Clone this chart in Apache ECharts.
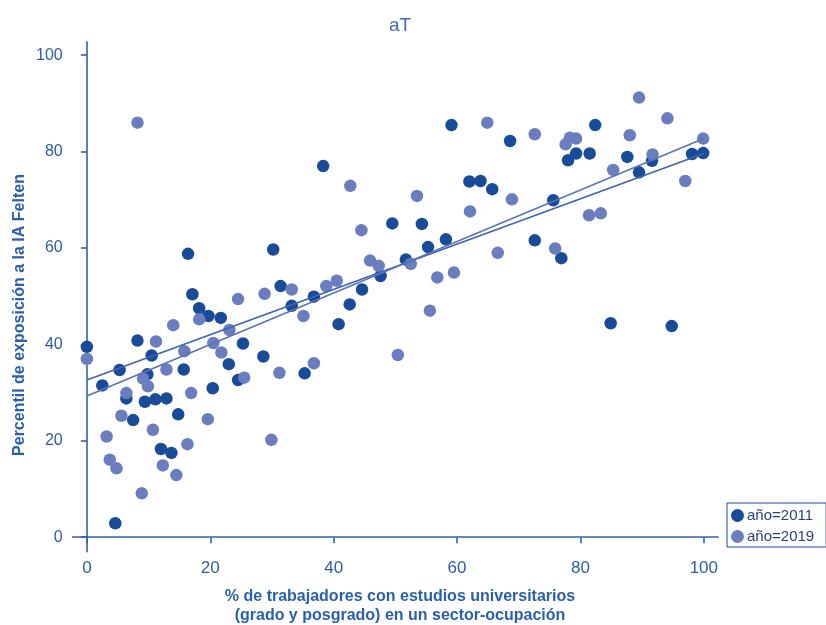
<!DOCTYPE html>
<html>
<head>
<meta charset="utf-8">
<script src="https://cdn.jsdelivr.net/npm/echarts@6/dist/echarts.min.js"></script>
<style>html,body{margin:0;padding:0;background:#fff}#c{width:826px;height:625px}</style>
</head>
<body>
<div id="c"></div>
<script>
const tickValues = [0, 20, 40, 60, 80, 100];
const seriesNames = ['año=2011', 'año=2019'];
const points2011 = [[0,39.5],[2.5,31.5],[4.6,2.9],[5.3,34.7],[6.4,28.8],[7.5,24.3],[8.2,40.8],[9.4,28.1],[9.8,33.8],[10.5,37.7],[11.1,28.6],[12.0,18.3],[12.9,28.8],[13.7,17.5],[14.8,25.5],[15.7,34.8],[16.4,58.8],[17.1,50.4],[18.2,47.5],[19.7,45.9],[20.4,30.9],[21.7,45.5],[23.0,35.9],[24.5,32.6],[25.3,40.2],[28.6,37.5],[30.2,59.7],[31.4,52.1],[33.2,48.0],[35.3,34.0],[36.8,49.9],[38.3,77.0],[40.8,44.2],[42.6,48.3],[44.6,51.4],[47.6,54.2],[49.5,65.1],[51.7,57.6],[54.3,65.0],[55.3,60.2],[58.2,61.8],[59.1,85.5],[62.0,73.8],[63.8,73.9],[65.7,72.2],[68.6,82.2],[72.6,61.6],[75.6,69.9],[76.9,57.9],[78.0,78.2],[79.3,79.6],[81.5,79.6],[82.4,85.5],[84.9,44.4],[87.6,78.9],[89.5,75.7],[91.6,78.1],[94.8,43.8],[98.1,79.5],[99.9,79.7]];
const points2019 = [[0,37.0],[3.2,20.9],[3.7,16.1],[4.8,14.3],[5.6,25.2],[6.4,29.9],[8.2,86.0],[8.9,9.1],[9.1,32.9],[9.9,31.3],[10.7,22.3],[11.2,40.6],[12.3,14.9],[12.9,34.8],[14.0,44.0],[14.5,12.9],[15.8,38.6],[16.3,19.3],[16.9,29.9],[18.2,45.2],[19.6,24.5],[20.5,40.3],[21.8,38.3],[23.1,43.0],[24.5,49.4],[25.5,33.1],[28.8,50.5],[29.9,20.2],[31.2,34.1],[33.2,51.4],[35.1,45.9],[36.8,36.1],[38.8,52.1],[40.5,53.2],[42.7,72.9],[44.5,63.7],[45.9,57.4],[47.3,56.3],[50.4,37.8],[52.5,56.7],[53.5,70.8],[55.6,47.0],[56.8,53.9],[59.5,54.9],[62.1,67.6],[64.9,86.0],[66.6,59.0],[68.9,70.1],[72.6,83.6],[75.9,59.9],[77.6,81.5],[78.3,82.9],[79.3,82.7],[81.4,66.8],[83.3,67.2],[85.3,76.2],[88.0,83.4],[89.5,91.2],[91.7,79.4],[94.1,86.9],[97.0,73.9],[99.9,82.7]];
const fit2011 = [[0,32.6],[100,79.6]];
const fit2019 = [[0,29.3],[100,82.7]];

const DARK = '#184c98';
const LIGHT = '#6a7ebf';
const AXIS = '#3261ad';
const TXT = '#2d5ca8';

const chart = echarts.init(document.getElementById('c'), null, {renderer: 'canvas'});
chart.setOption({
  animation: false,
  backgroundColor: '#fff',
  title: {
    text: 'aT', left: 395, top: 11, textAlign: 'center',
    textStyle: {color: '#3f6cb6', fontSize: 19, fontWeight: 'normal', fontFamily: 'Liberation Sans'}
  },
  legend: {
    orient: 'vertical', left: 727, top: 503,
    data: seriesNames,
    icon: 'circle', itemWidth: 13, itemHeight: 13, itemGap: 6,
    padding: [5, 12, 3, 4],
    borderColor: '#1f4f9c', borderWidth: 1,
    textStyle: {color: '#26437f', fontSize: 15, fontFamily: 'Liberation Sans', padding: [0,0,0,-2]}
  },
  grid: {left: 72.7, right: 108, top: 41.7, bottom: 73.3, containLabel: false},
  xAxis: {
    type: 'value', min: -2.3, max: 102.3,
    axisLine: {show: true, lineStyle: {color: AXIS, width: 1.6}},
    axisTick: {show: true, customValues: tickValues, length: 6, lineStyle: {color: AXIS, width: 1.6}},
    axisLabel: {customValues: tickValues, color: TXT, fontSize: 17, margin: 8, fontFamily: 'Liberation Sans'},
    splitLine: {show: false}
  },
  yAxis: {
    type: 'value', min: -3, max: 102.8,
    axisLine: {show: true, lineStyle: {color: AXIS, width: 1.6}},
    axisTick: {show: true, customValues: tickValues, length: 6, lineStyle: {color: AXIS, width: 1.6}},
    axisLabel: {customValues: tickValues, color: TXT, fontSize: 16, margin: 10, fontFamily: 'Liberation Sans'},
    splitLine: {show: false}
  },
  graphic: [
    {type: 'text', x: 400, y: 597, style: {text: '% de trabajadores con estudios universitarios', fill: '#2a5fab', font: 'bold 16px "Liberation Sans"', textAlign: 'center', textVerticalAlign: 'middle'}},
    {type: 'text', x: 400, y: 616, style: {text: '(grado y posgrado) en un sector-ocupación', fill: '#2a5fab', font: 'bold 16px "Liberation Sans"', textAlign: 'center', textVerticalAlign: 'middle'}},
    {type: 'text', x: 20, y: 315, rotation: Math.PI / 2, style: {text: 'Percentil de exposición a la IA Felten', fill: '#2a5fab', font: 'bold 16px "Liberation Sans"', textAlign: 'center', textVerticalAlign: 'middle'}}
  ],
  series: [
    {name: seriesNames[0], type: 'scatter', data: points2011, symbolSize: 12.5, itemStyle: {color: DARK, opacity: 1}, z: 3},
    {name: seriesNames[1], type: 'scatter', data: points2019, symbolSize: 12.5, itemStyle: {color: LIGHT, opacity: 1}, z: 3},
    {name: 'fit2011', type: 'line', data: fit2011, symbol: 'none', lineStyle: {color: '#3f63ad', width: 1.6}, z: 4, silent: true},
    {name: 'fit2019', type: 'line', data: fit2019, symbol: 'none', lineStyle: {color: '#5a74b9', width: 1.6}, z: 4, silent: true}
  ]
});
</script>
</body>
</html>
